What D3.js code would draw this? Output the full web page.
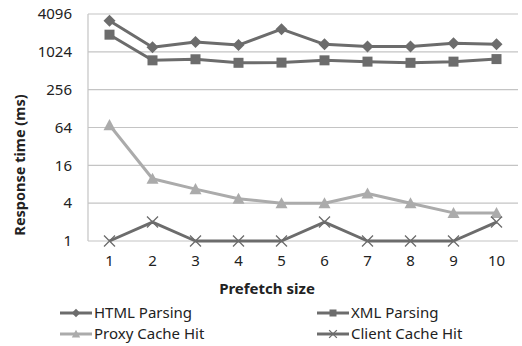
<!DOCTYPE html>
<html>
<head>
<meta charset="utf-8">
<script src="https://cdn.jsdelivr.net/npm/d3@7/dist/d3.min.js"></script>
<style>
  html, body { margin: 0; padding: 0; background: #fff; }
  svg { display: block; font-family: "Noto Sans", "Open Sans", sans-serif; }
</style>
</head>
<body>
<svg id="chart" width="522" height="346"></svg>
<script>
// Prefetch sizes on the x axis
const categories = [1, 2, 3, 4, 5, 6, 7, 8, 9, 10];
// Response times (ms) for each series
const htmlParsing = [3200, 1210, 1470, 1310, 2350, 1350, 1240, 1240, 1400, 1350];
const xmlParsing = [1920, 750, 780, 685, 690, 750, 715, 685, 715, 785];
const proxyCacheHit = [70, 9.8, 6.7, 4.7, 4, 4, 5.7, 4, 2.8, 2.8];
const clientCacheHit = [1, 2, 1, 1, 1, 2, 1, 1, 1, 2];
const yTicks = [1, 4, 16, 64, 256, 1024, 4096];
const seriesNames = ["HTML Parsing", "XML Parsing", "Proxy Cache Hit", "Client Cache Hit"];

const dark = "#6c6c6c", light = "#ababab";
const series = [
  { name: seriesNames[0], values: htmlParsing, color: dark, marker: "diamond" },
  { name: seriesNames[1], values: xmlParsing, color: dark, marker: "square" },
  { name: seriesNames[2], values: proxyCacheHit, color: light, marker: "triangle" },
  { name: seriesNames[3], values: clientCacheHit, color: dark, marker: "cross" }
];

const svg = d3.select("#chart");
const plot = { left: 88, right: 518, top: 14, bottom: 241 };

const x = d3.scaleBand().domain(categories).range([plot.left, plot.right]);
const y = d3.scaleLog().base(4).domain([1, 4096]).range([plot.bottom, plot.top]);
const cx = d => x(d) + x.bandwidth() / 2;

// horizontal gridlines
svg.append("g").selectAll("line").data(yTicks).join("line")
  .attr("x1", plot.left).attr("x2", plot.right)
  .attr("y1", d => y(d)).attr("y2", d => y(d))
  .attr("stroke", "#c4c4c4").attr("stroke-width", 1.2);

// left axis line
svg.append("line")
  .attr("x1", plot.left).attr("x2", plot.left)
  .attr("y1", plot.top).attr("y2", plot.bottom)
  .attr("stroke", "#c4c4c4").attr("stroke-width", 1.2);

// y axis tick labels
const yAxis = d3.axisLeft(y).tickValues(yTicks).tickFormat(d3.format("d")).tickSize(0).tickPadding(16);
const yg = svg.append("g").attr("transform", `translate(${plot.left},0)`).call(yAxis);
yg.select(".domain").remove();
yg.selectAll("text").attr("font-size", 15).attr("fill", "#222").attr("font-family", "Noto Sans, sans-serif");

// x axis tick labels
const xAxis = d3.axisBottom(x).tickSize(0).tickPadding(14);
const xg = svg.append("g").attr("transform", `translate(0,${plot.bottom})`).call(xAxis);
xg.select(".domain").remove();
xg.selectAll("text").attr("font-size", 15).attr("fill", "#222").attr("font-family", "Noto Sans, sans-serif");

// axis titles
svg.append("text").attr("x", 267).attr("y", 294).attr("text-anchor", "middle")
  .attr("font-size", 15).attr("font-weight", "bold").attr("fill", "#222")
  .text("Prefetch size");
svg.append("text").attr("transform", "translate(25,165) rotate(-90)").attr("text-anchor", "middle")
  .attr("font-size", 14.5).attr("font-weight", "bold").attr("fill", "#222")
  .text("Response time (ms)");

// marker shapes
function drawMarker(g, type, color, px, py, scale) {
  const s = scale || 1;
  if (type === "diamond") {
    const r = 6 * s;
    g.append("path").attr("d", `M${px},${py - r}L${px + r},${py}L${px},${py + r}L${px - r},${py}Z`).attr("fill", color);
  } else if (type === "square") {
    const r = 5 * s;
    g.append("rect").attr("x", px - r).attr("y", py - r).attr("width", 2 * r).attr("height", 2 * r).attr("fill", color);
  } else if (type === "triangle") {
    const r = 6 * s;
    g.append("path").attr("d", `M${px},${py - r}L${px + r},${py + r * 0.85}L${px - r},${py + r * 0.85}Z`).attr("fill", color);
  } else if (type === "cross") {
    const r = 5.5 * s;
    g.append("path").attr("d", `M${px - r},${py - r}L${px + r},${py + r}M${px - r},${py + r}L${px + r},${py - r}`)
      .attr("stroke", color).attr("stroke-width", 1.3).attr("fill", "none");
  }
}

const line = d3.line().x((v, i) => cx(categories[i])).y(v => y(v));

series.forEach(s => {
  const g = svg.append("g");
  g.append("path").attr("d", line(s.values)).attr("fill", "none")
    .attr("stroke", s.color).attr("stroke-width", 3).attr("stroke-linejoin", "round");
  s.values.forEach((v, i) => drawMarker(g, s.marker, s.color, cx(categories[i]), y(v)));
});

// legend
const legendPos = [[60, 313], [317, 313], [60, 334], [317, 334]];
series.forEach((s, i) => {
  const [lx, ly] = legendPos[i];
  const g = svg.append("g");
  g.append("line").attr("x1", lx).attr("x2", lx + 32).attr("y1", ly).attr("y2", ly)
    .attr("stroke", s.color).attr("stroke-width", 3);
  drawMarker(g, s.marker, s.color, lx + 16, ly, 0.7);
  g.append("text").attr("x", lx + 34).attr("y", ly + 5).attr("font-size", 15).attr("fill", "#222")
    .text(s.name);
});
</script>
</body>
</html>
